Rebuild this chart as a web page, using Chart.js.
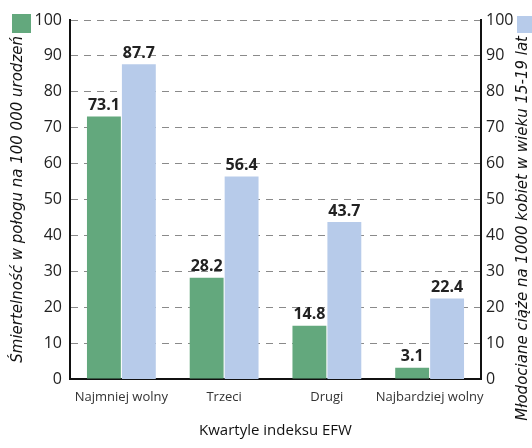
<!DOCTYPE html>
<html>
<head>
<meta charset="utf-8">
<script src="https://cdn.jsdelivr.net/npm/chart.js@4/dist/chart.umd.min.js"></script>
<style>
html,body{margin:0;padding:0;background:#fff;}
#wrap{width:532px;height:448px;position:relative;}
</style>
</head>
<body>
<div id="wrap"><canvas id="c" width="532" height="448"></canvas></div>
<script>
const categories = ["Najmniej wolny", "Trzeci", "Drugi", "Najbardziej wolny"];
const mortality = [73.1, 28.2, 14.8, 3.1];
const teenPregnancy = [87.7, 56.4, 43.7, 22.4];
const xTitle = "Kwartyle indeksu EFW";
const leftTitle = "Śmiertelność w połogu na 100 000 urodzeń";
const rightTitle = "Młodociane ciąże na 1000 kobiet w wieku 15-19 lat";
const GREEN = "rgb(99,168,125)";
const BLUE = "rgb(183,203,234)";
const FONT = "'Open Sans', 'DejaVu Sans', sans-serif";
const TITLE_FONT = "'DejaVu Sans', sans-serif";

const overlay = {
  id: "overlay",
  afterDatasetsDraw(chart) {
    const ctx = chart.ctx;
    ctx.save();
    // value labels
    ctx.font = "bold 16px " + FONT;
    ctx.fillStyle = "#222";
    ctx.textAlign = "center";
    ctx.textBaseline = "bottom";
    chart.data.datasets.forEach((ds, i) => {
      const meta = chart.getDatasetMeta(i);
      meta.data.forEach((bar, j) => {
        ctx.fillText(ds.data[j].toFixed(1), bar.x, bar.y - 3);
      });
    });
    // legend squares
    ctx.fillStyle = GREEN;
    ctx.fillRect(12, 14, 19, 19);
    ctx.fillStyle = BLUE;
    ctx.fillRect(517, 16, 16, 17);
    // axis titles
    ctx.font = "oblique 15px " + TITLE_FONT;
    ctx.fillStyle = "#111";
    ctx.textBaseline = "middle";
    ctx.textAlign = "right";
    ctx.save();
    ctx.translate(18, 36);
    ctx.rotate(-Math.PI / 2);
    ctx.fillText(leftTitle, 0, 0);
    ctx.restore();
    ctx.save();
    ctx.translate(523, 36);
    ctx.rotate(-Math.PI / 2);
    ctx.fillText(rightTitle, 0, 0);
    ctx.restore();
    // x title
    ctx.textAlign = "center";
    ctx.font = "15px " + FONT;
    ctx.fillText(xTitle, (chart.chartArea.left + chart.chartArea.right) / 2, 431);
    ctx.restore();
  }
};

new Chart(document.getElementById("c"), {
  type: "bar",
  data: {
    labels: categories,
    datasets: [
      { label: "mortality", data: mortality, backgroundColor: GREEN, yAxisID: "y",
        categoryPercentage: 0.68, barPercentage: 0.97 },
      { label: "teen", data: teenPregnancy, backgroundColor: BLUE, yAxisID: "y1",
        categoryPercentage: 0.68, barPercentage: 0.97 }
    ]
  },
  options: {
    responsive: false,
    animation: false,
    layout: { padding: { top: 20, left: 0, right: 0, bottom: 0 } },
    plugins: { legend: { display: false }, tooltip: { enabled: false } },
    scales: {
      x: {
        grid: { display: false, drawTicks: false },
        border: { display: true, color: "#111", width: 2 },
        ticks: { font: { family: FONT, size: 13 }, color: "#333", padding: 10,
                 maxRotation: 0, minRotation: 0, autoSkip: false },
        afterFit(s) { s.height = 69; }
      },
      y: {
        position: "left",
        min: 0, max: 100,
        ticks: { stepSize: 10, font: { family: FONT, size: 16 }, color: "#222", padding: 8 },
        grid: { color: "#8a8a8a", lineWidth: 1, drawTicks: false },
        border: { display: true, color: "#111", width: 2, dash: [7, 6] },
        afterFit(s) { s.width = 70; }
      },
      y1: {
        position: "right",
        min: 0, max: 100,
        ticks: { stepSize: 10, font: { family: FONT, size: 16 }, color: "#222", padding: 5 },
        grid: { display: false, drawTicks: false },
        border: { display: true, color: "#111", width: 2 },
        afterFit(s) { s.width = 51; }
      }
    }
  },
  plugins: [overlay]
});
</script>
</body>
</html>
